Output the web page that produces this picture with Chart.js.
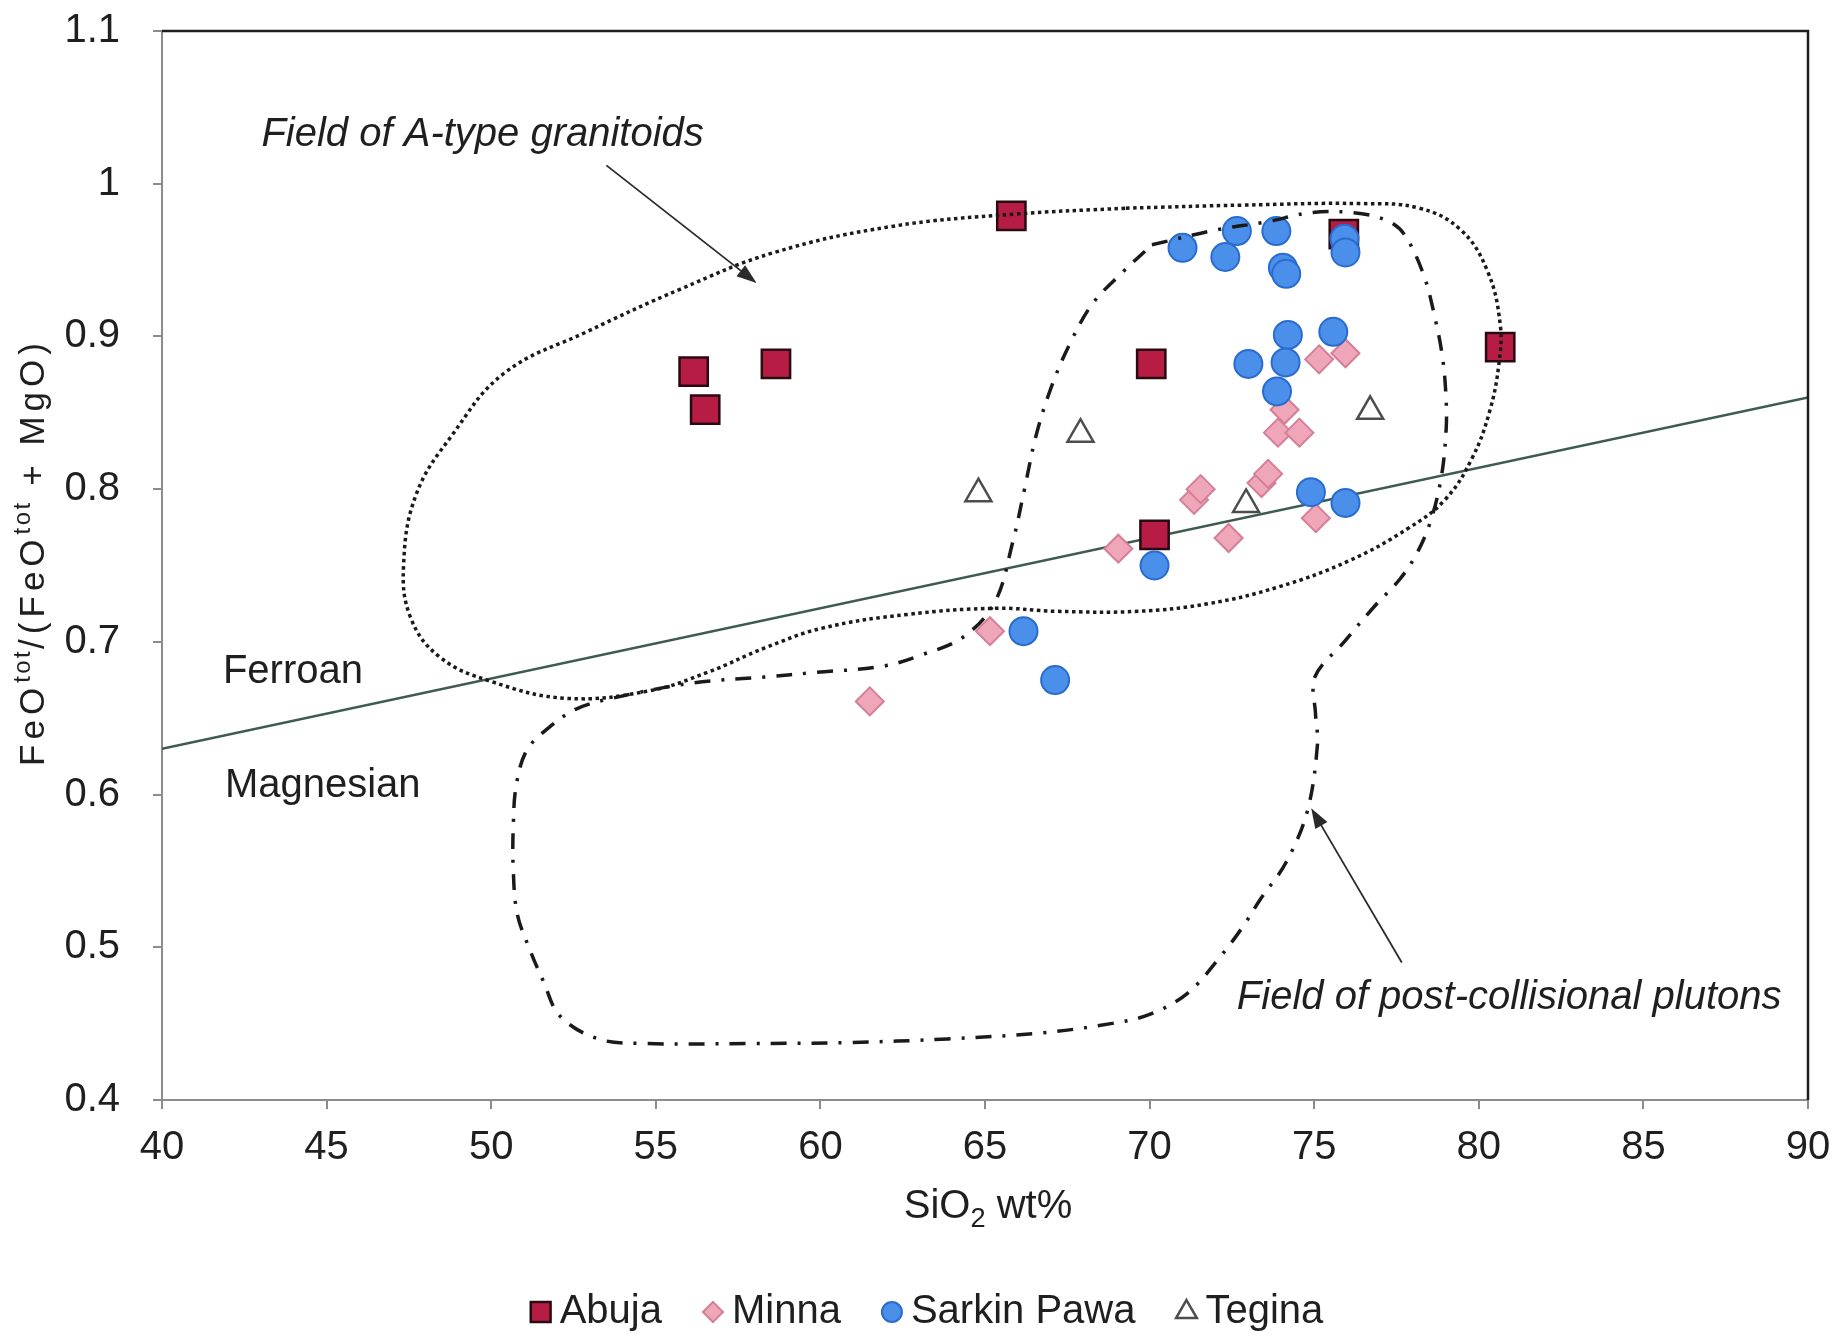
<!DOCTYPE html>
<html>
<head>
<meta charset="utf-8">
<title>FeOtot/(FeOtot + MgO) vs SiO2</title>
<script src="https://cdn.jsdelivr.net/npm/chart.js@4/dist/chart.umd.min.js"></script>
<style>
  html, body { margin: 0; padding: 0; background: #ffffff; }
  #wrap { width: 1839px; height: 1336px; }
</style>
</head>
<body>
<div id="wrap"><canvas id="chart" width="1839" height="1336"></canvas></div>
<script>
// ---- Sample data: SiO2 (wt%) and FeOtot/(FeOtot + MgO) ----
const abujaSiO2  = [65.8, 56.15, 56.5, 58.65, 70.05, 75.9, 80.65, 70.15];
const abujaRatio = [0.979, 0.877, 0.852, 0.882, 0.882, 0.967, 0.893, 0.770];

const minnaSiO2  = [65.15, 61.5, 69.05, 71.35, 71.55, 72.4, 73.4, 73.6, 75.05, 75.15, 75.95, 74.1, 73.9, 74.55];
const minnaRatio = [0.707, 0.661, 0.761, 0.793, 0.800, 0.768, 0.804, 0.810, 0.781, 0.885, 0.889, 0.852, 0.837, 0.837];

const sarkinSiO2  = [71.0, 72.3, 72.65, 73.85, 74.05, 74.15, 75.92, 75.95, 74.2, 75.58, 73.0, 74.13, 73.87, 74.9, 75.95, 70.15, 66.17, 67.13];
const sarkinRatio = [0.958, 0.952, 0.969, 0.969, 0.945, 0.941, 0.964, 0.955, 0.901, 0.903, 0.882, 0.883, 0.864, 0.798, 0.791, 0.750, 0.707, 0.675];

const teginaSiO2  = [64.8, 67.9, 72.93, 76.7];
const teginaRatio = [0.797, 0.836, 0.790, 0.851];

// Ferroan / magnesian boundary
const boundarySiO2  = [40, 90];
const boundaryRatio = [0.63, 0.86];

// Outline of the field of A-type granitoids (closed loop)
const aTypeSiO2  = [69.28, 72.85, 76.41, 78.19, 79.44, 80.26, 80.65, 80.61, 80.33, 79.79, 78.97, 77.83, 76.05, 73.92, 71.78, 69.64, 67.15, 65.37, 62.66, 60.06, 58.31, 56.57, 54.82, 52.29, 50.01, 48.44, 47.55, 47.34, 47.73, 48.8, 50.4, 52.9, 55.75, 58.6, 62.16, 65.83, 69.28];
const aTypeRatio = [0.984, 0.986, 0.987, 0.984, 0.970, 0.943, 0.908, 0.882, 0.851, 0.820, 0.793, 0.774, 0.753, 0.736, 0.725, 0.720, 0.720, 0.722, 0.718, 0.709, 0.696, 0.680, 0.668, 0.663, 0.674, 0.690, 0.716, 0.751, 0.797, 0.835, 0.876, 0.903, 0.931, 0.955, 0.972, 0.980, 0.984];

// Outline of the field of post-collisional plutons (closed loop)
const postColSiO2  = [70.07, 72.08, 73.56, 74.88, 76.2, 77.2, 77.73, 78.33, 78.69, 78.9, 79.0, 79.01, 78.87, 78.55, 78.12, 77.6, 76.84, 75.91, 75.02, 75.04, 75.1, 74.79, 74.13, 73.35, 72.85, 72.19, 71.16, 70.0, 68.82, 66.74, 63.87, 60.79, 57.8, 54.68, 53.25, 52.09, 51.58, 51.19, 50.79, 50.67, 50.67, 50.76, 51.08, 51.76, 52.58, 53.66, 56.1, 58.31, 59.88, 61.89, 63.01, 64.33, 65.3, 65.85, 66.2, 66.55, 67.0, 67.55, 68.25, 69.13, 70.07];
const postColRatio = [0.960, 0.970, 0.975, 0.981, 0.981, 0.976, 0.967, 0.940, 0.910, 0.886, 0.862, 0.840, 0.809, 0.780, 0.758, 0.741, 0.7235, 0.700, 0.677, 0.653, 0.633, 0.589, 0.555, 0.531, 0.514, 0.495, 0.470, 0.456, 0.450, 0.444, 0.440, 0.4376, 0.437, 0.437, 0.440, 0.455, 0.478, 0.4975, 0.522, 0.551, 0.579, 0.606, 0.629, 0.644, 0.656, 0.663, 0.673, 0.677, 0.680, 0.684, 0.691, 0.703, 0.726, 0.766, 0.800, 0.835, 0.866, 0.894, 0.921, 0.941, 0.960];

// Axis ticks
const xTicks = [40, 45, 50, 55, 60, 65, 70, 75, 80, 85, 90];
const xTickLabels = ['40', '45', '50', '55', '60', '65', '70', '75', '80', '85', '90'];
const yTicks = [0.4, 0.5, 0.6, 0.7, 0.8, 0.9, 1.0, 1.1];
const yTickLabels = ['0.4', '0.5', '0.6', '0.7', '0.8', '0.9', '1', '1.1'];

// Text labels and arrows, anchored in data units
const notes = [
  { text: 'Field of A-type granitoids', x: 43.02, y: 1.032, italic: true },
  { text: 'Field of post-collisional plutons', x: 72.65, y: 0.467, italic: true },
  { text: 'Ferroan', x: 41.85, y: 0.680, italic: false },
  { text: 'Magnesian', x: 41.91, y: 0.6056, italic: false }
];
const arrows = [
  { from: [53.5, 1.012], to: [58.06, 0.935] },
  { from: [77.66, 0.49], to: [74.91, 0.591] }
];

const FONT = '"Liberation Sans", Arial, Helvetica, sans-serif';
const TEXT = '#1f1f1f';
const AXIS = '#8c8c8c';

const toPoints = (xs, ys) => xs.map((x, i) => ({ x: x, y: ys[i] }));

const series = [
  { label: 'Abuja', xs: abujaSiO2, ys: abujaRatio, pointStyle: 'rect', radius: 20, legendRadius: 14,
    fill: '#B71C44', stroke: '#2a0910', width: 2.5, order: 8 },
  { label: 'Minna', xs: minnaSiO2, ys: minnaRatio, pointStyle: 'rectRot', radius: 14, legendRadius: 10,
    fill: '#EFA6B8', stroke: '#D47F96', width: 2, order: 7 },
  { label: 'Sarkin Pawa', xs: sarkinSiO2, ys: sarkinRatio, pointStyle: 'circle', radius: 14, legendRadius: 10,
    fill: '#4A90EA', stroke: '#2A6BD0', width: 2, order: 6 },
  { label: 'Tegina', xs: teginaSiO2, ys: teginaRatio, pointStyle: 'triangle', radius: 15, legendRadius: 12,
    fill: 'rgba(255,255,255,0)', stroke: '#4d4d4d', width: 2.5, order: 5 }
];

const datasets = series.map(s => ({
  label: s.label,
  data: toPoints(s.xs, s.ys),
  pointStyle: s.pointStyle,
  pointRadius: s.radius,
  pointHoverRadius: s.radius,
  backgroundColor: s.fill,
  borderColor: s.stroke,
  pointBorderWidth: s.width,
  borderWidth: s.width,
  order: s.order
}));

datasets.push({
  label: 'Ferroan/Magnesian boundary',
  data: toPoints(boundarySiO2, boundaryRatio),
  showLine: true, pointRadius: 0, pointHoverRadius: 0,
  borderColor: '#3f5b4e', borderWidth: 2.5, order: 9
});
datasets.push({
  label: 'A-type granitoids field',
  data: toPoints(aTypeSiO2, aTypeRatio),
  showLine: true, pointRadius: 0, pointHoverRadius: 0,
  borderColor: '#1a1a1a', borderWidth: 3.5, borderDash: [3.5, 3.5],
  tension: 0.4, order: 2
});
datasets.push({
  label: 'Post-collisional plutons field',
  data: toPoints(postColSiO2, postColRatio),
  showLine: true, pointRadius: 0, pointHoverRadius: 0,
  borderColor: '#1a1a1a', borderWidth: 3.5, borderDash: [16, 11, 3, 11],
  tension: 0.35, order: 1
});

// Draws segments of text (normal / sup / sub) starting at x, centred on y
function richText(ctx, parts, x, y, size, spacing) {
  let cx = x;
  parts.forEach(p => {
    const fs = p.kind === 'normal' ? size : size * 0.68;
    const dy = p.kind === 'sup' ? -size * 0.3 : (p.kind === 'sub' ? size * 0.32 : 0);
    ctx.font = fs + 'px ' + FONT;
    ctx.letterSpacing = (p.kind === 'normal' ? spacing : spacing * 0.5) + 'px';
    ctx.fillText(p.t, cx, y + dy);
    cx += ctx.measureText(p.t).width;
  });
  return cx - x;
}
function richWidth(ctx, parts, size, spacing) {
  let w = 0;
  parts.forEach(p => {
    const fs = p.kind === 'normal' ? size : size * 0.68;
    ctx.font = fs + 'px ' + FONT;
    ctx.letterSpacing = (p.kind === 'normal' ? spacing : spacing * 0.5) + 'px';
    w += ctx.measureText(p.t).width;
  });
  return w;
}

function drawArrow(ctx, x1, y1, x2, y2) {
  const a = Math.atan2(y2 - y1, x2 - x1);
  const L = 20, W = 7;
  ctx.beginPath();
  ctx.moveTo(x1, y1);
  ctx.lineTo(x2 - Math.cos(a) * L * 0.8, y2 - Math.sin(a) * L * 0.8);
  ctx.stroke();
  ctx.beginPath();
  ctx.moveTo(x2, y2);
  ctx.lineTo(x2 - L * Math.cos(a) + W * Math.sin(a), y2 - L * Math.sin(a) - W * Math.cos(a));
  ctx.lineTo(x2 - L * Math.cos(a) - W * Math.sin(a), y2 - L * Math.sin(a) + W * Math.cos(a));
  ctx.closePath();
  ctx.fill();
}

const decorations = {
  id: 'decorations',
  afterDraw(chart) {
    const ctx = chart.ctx;
    const area = chart.chartArea;
    const xs = chart.scales.x, ys = chart.scales.y;
    ctx.save();

    // plot frame: top and right edges
    ctx.strokeStyle = '#1e1e1e';
    ctx.lineWidth = 2.5;
    ctx.beginPath();
    ctx.moveTo(area.left, area.top);
    ctx.lineTo(area.right, area.top);
    ctx.lineTo(area.right, area.bottom);
    ctx.stroke();

    // notes
    ctx.fillStyle = TEXT;
    ctx.textBaseline = 'middle';
    ctx.textAlign = 'left';
    ctx.letterSpacing = '0px';
    notes.forEach(n => {
      ctx.font = (n.italic ? 'italic ' : '') + '40px ' + FONT;
      ctx.fillText(n.text, xs.getPixelForValue(n.x), ys.getPixelForValue(n.y));
    });

    // arrows
    ctx.strokeStyle = '#2a2a2a';
    ctx.fillStyle = '#2a2a2a';
    ctx.lineWidth = 1.8;
    arrows.forEach(a => {
      drawArrow(ctx,
        xs.getPixelForValue(a.from[0]), ys.getPixelForValue(a.from[1]),
        xs.getPixelForValue(a.to[0]), ys.getPixelForValue(a.to[1]));
    });

    // x-axis title
    ctx.fillStyle = TEXT;
    const xParts = [{ t: 'SiO', kind: 'normal' }, { t: '2', kind: 'sub' }, { t: ' wt%', kind: 'normal' }];
    const xw = richWidth(ctx, xParts, 40, 0);
    richText(ctx, xParts, (area.left + area.right) / 2 + 3 - xw / 2, 1207, 40, 0);

    // y-axis title (rotated)
    const yParts = [
      { t: 'FeO', kind: 'normal' }, { t: 'tot', kind: 'sup' }, { t: '/(FeO', kind: 'normal' },
      { t: 'tot', kind: 'sup' }, { t: ' + MgO)', kind: 'normal' }
    ];
    ctx.save();
    ctx.translate(34, 552);
    ctx.rotate(-Math.PI / 2);
    const yw = richWidth(ctx, yParts, 35, 5);
    richText(ctx, yParts, -yw / 2, 0, 35, 5);
    ctx.restore();

    // legend
    ctx.letterSpacing = '0px';
    ctx.font = '40px ' + FONT;
    const markerGap = 19, itemGap = 51;
    let total = 0;
    series.forEach((s, i) => {
      total += 10 + markerGap + ctx.measureText(s.label).width + (i < series.length - 1 ? itemGap - 10 : 0);
    });
    let lx = 927 - total / 2;
    const ly = 1312;
    series.forEach(s => {
      const mx = lx + 10;
      ctx.fillStyle = s.fill;
      ctx.strokeStyle = s.stroke;
      ctx.lineWidth = s.width;
      Chart.helpers.drawPoint(ctx, { pointStyle: s.pointStyle, radius: s.legendRadius, rotation: 0, borderWidth: s.width }, mx, ly);
      ctx.fillStyle = TEXT;
      ctx.font = '40px ' + FONT;
      ctx.textAlign = 'left';
      ctx.textBaseline = 'middle';
      const tx = mx + markerGap;
      ctx.fillText(s.label, tx, ly);
      lx = tx + ctx.measureText(s.label).width + itemGap - 10;
    });

    ctx.restore();
  }
};

new Chart(document.getElementById('chart').getContext('2d'), {
  type: 'scatter',
  data: { datasets: datasets },
  options: {
    responsive: false,
    animation: false,
    devicePixelRatio: 1,
    events: [],
    layout: { padding: { top: 31, right: 31, left: 0, bottom: 0 } },
    plugins: { legend: { display: false }, tooltip: { enabled: false }, title: { display: false } },
    scales: {
      x: {
        type: 'linear',
        min: 40, max: 90,
        afterBuildTicks: s => { s.ticks = xTicks.map(v => ({ value: v })); },
        afterFit: s => { s.height = 236; s.paddingLeft = 0; s.paddingRight = 0; },
        ticks: {
          padding: 15,
          color: TEXT,
          font: { family: FONT, size: 40 },
          maxRotation: 0,
          callback: (v, i) => xTickLabels[i]
        },
        border: { display: true, color: AXIS, width: 2 },
        grid: { display: true, drawOnChartArea: false, drawTicks: true, tickLength: 9, color: AXIS, lineWidth: 2 },
        title: { display: false }
      },
      y: {
        type: 'linear',
        min: 0.4, max: 1.1,
        afterBuildTicks: s => { s.ticks = yTicks.map(v => ({ value: v })); },
        afterFit: s => { s.width = 162; s.paddingTop = 0; s.paddingBottom = 0; },
        ticks: {
          padding: 33,
          color: TEXT,
          font: { family: FONT, size: 40 },
          callback: (v, i) => yTickLabels[i]
        },
        border: { display: true, color: AXIS, width: 2 },
        grid: { display: true, drawOnChartArea: false, drawTicks: true, tickLength: 9, color: AXIS, lineWidth: 2 },
        title: { display: false }
      }
    }
  },
  plugins: [decorations]
});
</script>
</body>
</html>
